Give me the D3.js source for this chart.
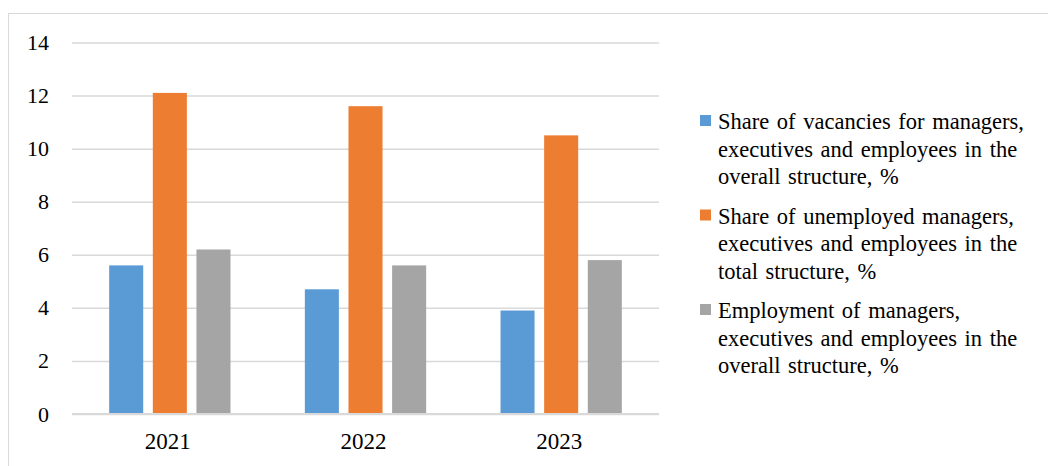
<!DOCTYPE html>
<html>
<head>
<meta charset="utf-8">
<script src="https://cdn.jsdelivr.net/npm/d3@7"></script>
<style>
  body { margin: 0; background: #fff; }
  svg { display: block; }
</style>
</head>
<body>
<div id="plot_area"></div>
<script>
// chart data
const years = ['2021', '2022', '2023'];
const seriesNames = [
  ['Share of vacancies for managers,', 'executives and employees in the', 'overall structure, %'],
  ['Share of unemployed managers,', 'executives and employees in the', 'total structure, %'],
  ['Employment of managers,', 'executives and employees in the', 'overall structure, %']
];
const vacancies = [5.6, 4.7, 3.9];
const unemployed = [12.1, 11.6, 10.5];
const employment = [6.2, 5.6, 5.8];
const yTicks = [0, 2, 4, 6, 8, 10, 12, 14];
const colors = ['#5B9BD5', '#ED7D31', '#A5A5A5'];

const w = 1048;
const h = 466;
const plotLeft = 72, plotRight = 659, plotTop = 42.5, plotBottom = 414;
const serif = "'Liberation Serif', 'Times New Roman', serif";

const allSeries = [vacancies, unemployed, employment];

const svg = d3.select('#plot_area')
              .append('svg')
              .attr('width', w)
              .attr('height', h);

// outer chart border
svg.append('rect')
   .attr('x', 8.5)
   .attr('y', 13.5)
   .attr('width', w + 10)
   .attr('height', h)
   .attr('fill', 'none')
   .attr('stroke', '#d9d9d9')
   .attr('stroke-width', 1);

const yScale = d3.scaleLinear()
                 .domain([0, 14])
                 .range([plotBottom, plotTop]);

const x0 = d3.scaleBand()
             .domain(years)
             .range([plotLeft, plotRight])
             .paddingInner(0.38)
             .paddingOuter(0.19);

const x1 = d3.scaleBand()
             .domain([0, 1, 2])
             .range([0, x0.bandwidth()])
             .paddingInner(0.22);

// gridlines + y labels
const yAxis = svg.append('g')
   .attr('transform', 'translate(' + plotLeft + ',0)')
   .call(d3.axisLeft(yScale)
           .tickValues(yTicks)
           .tickSize(-(plotRight - plotLeft))
           .tickPadding(23));
yAxis.select('.domain').remove();
yAxis.selectAll('line')
     .attr('stroke', '#d9d9d9')
     .attr('stroke-width', 1.5);
yAxis.selectAll('text')
     .style('font-family', serif)
     .style('font-size', '22px')
     .attr('fill', '#000');

// bars
const groups = svg.selectAll('g.year')
   .data(years)
   .enter()
   .append('g')
   .attr('class', 'year')
   .attr('transform', (d) => 'translate(' + x0(d) + ',0)');

groups.selectAll('rect')
   .data((d, i) => allSeries.map((s, k) => ({ k: k, v: s[i] })))
   .enter()
   .append('rect')
   .attr('x', (d) => x1(d.k))
   .attr('width', x1.bandwidth())
   .attr('y', (d) => yScale(d.v))
   .attr('height', (d) => yScale(0) - yScale(d.v))
   .attr('fill', (d) => colors[d.k]);

// baseline
svg.append('line')
   .attr('x1', plotLeft)
   .attr('x2', plotRight)
   .attr('y1', yScale(0))
   .attr('y2', yScale(0))
   .attr('stroke', '#d9d9d9')
   .attr('stroke-width', 2);

// x labels
const xAxis = svg.append('g')
   .attr('transform', 'translate(-2,' + yScale(0) + ')')
   .call(d3.axisBottom(x0).tickSize(0).tickPadding(19));
xAxis.select('.domain').remove();
xAxis.selectAll('text')
     .style('font-family', serif)
     .style('font-size', '23px')
     .attr('fill', '#000');

// legend
const legend = svg.selectAll('g.legend')
   .data(seriesNames)
   .enter()
   .append('g')
   .attr('class', 'legend')
   .attr('transform', (d, i) => 'translate(700,' + (129 + i * 94.5) + ')');

legend.append('rect')
   .attr('x', 0)
   .attr('y', -14)
   .attr('width', 11)
   .attr('height', 11)
   .attr('fill', (d, i) => colors[i]);

legend.append('text')
   .attr('x', 18)
   .attr('y', 0)
   .style('font-family', serif)
   .style('font-size', '22.5px')
   .style('word-spacing', '2px')
   .attr('fill', '#000')
   .selectAll('tspan')
   .data((d) => d)
   .enter()
   .append('tspan')
   .attr('x', 18)
   .attr('dy', (d, i) => i === 0 ? 0 : 27.5)
   .text((d) => d);
</script>
</body>
</html>
